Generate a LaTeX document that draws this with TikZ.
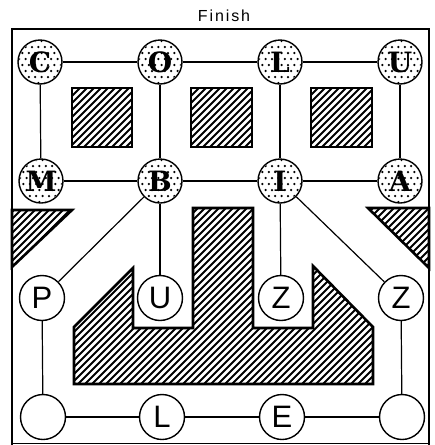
\documentclass[tikz,border=0pt]{standalone}
\usepackage{fontspec}
\newfontfamily\sansf{Liberation Sans}
\newfontfamily\stipf{DejaVu Serif}
\newcommand\stipdots[1]{%
 \begin{scope}
 \clip (#1) circle (21pt);
 \foreach \j in {0,...,7}{\foreach \i in {0,...,7}{%
   \pgfmathsetmacro\dx{\i*6.4-24+mod(\j,2)*3.2}%
   \pgfmathsetmacro\dy{\j*6-21}%
   \fill ([shift={(\dx,\dy)}]#1) circle (1.25pt);}}
 \end{scope}}
\begin{document}
\begin{tikzpicture}[x=1pt,y=-1pt,
  plain/.style={circle,draw,line width=1.4pt,minimum size=45pt,inner sep=0pt,fill=white,font=\sansf\fontsize{31}{31}\selectfont},
  stip/.style={circle,draw,line width=1.4pt,minimum size=44pt,inner sep=0pt,fill=white,font=\stipf\bfseries\fontsize{28}{28}\selectfont},
  link/.style={line width=1.2pt},
  edgeline/.style={line width=2.6pt,line join=miter},
  hatchline/.style={line width=1.8pt}]
\useasboundingbox (0,0) rectangle (435,445);
% title
\node[inner sep=0pt] (title) at (224,16) {\sansf\addfontfeatures{LetterSpace=12}\fontsize{16}{16}\selectfont Finish};
% frame
\draw[line width=2.8pt] (12,445) -- (12,29) -- (429,29) -- (429,445);
\draw[line width=0.8pt] (12,443) -- (429,443);
% hatching
\begin{scope}
\clip (72,88) rectangle (132,147)
      (191,88) rectangle (252,147)
      (311,88) rectangle (372,147)
      (12,210) -- (72,210) -- (12,267) -- cycle
      (368,208) -- (429,208) -- (429,268) -- cycle
      (74,384) -- (74,327) -- (133,268) -- (133,328) -- (193,328) -- (193,208) -- (253,208) -- (253,328) -- (313,328) -- (313,266) -- (373,327) -- (373,384) -- cycle;
\foreach \c in {0,7,...,882} \draw[hatchline] (\c-445,445) -- (\c,0);
\end{scope}
\draw[edgeline] (72,88) rectangle (132,147);
\draw[edgeline] (191,88) rectangle (252,147);
\draw[edgeline] (311,88) rectangle (372,147);
\draw[edgeline] (12,210) -- (72,210) -- (12,267) -- cycle;
\draw[edgeline] (368,208) -- (429,208) -- (429,268) -- cycle;
\draw[edgeline] (74,384) -- (74,327) -- (133,268) -- (133,328) -- (193,328) -- (193,208) -- (253,208) -- (253,328) -- (313,328) -- (313,266) -- (373,327) -- (373,384) -- cycle;
% stippled nodes
\node[stip] (Cs) at (40,62) {C};
\node[stip] (Os) at (160,62) {O};
\node[stip] (Ls) at (280,62) {L};
\node[stip] (Us) at (400,62) {U};
\node[stip] (Ms) at (41,181) {M};
\node[stip] (Bs) at (160,181) {B};
\node[stip] (Is) at (280,181) {I};
\node[stip] (As) at (400,181) {A};
\foreach \n in {Cs,Os,Ls,Us,Ms,Bs,Is,As} {\stipdots{\n}}
% plain nodes
\node[plain] (Pp) at (42,298) {P};
\node[plain] (Up) at (160,298) {U};
\node[plain] (Z1) at (281,298) {Z};
\node[plain] (Z2) at (401,298) {Z};
\node[plain] (BL) at (43,417) {};
\node[plain] (Lp) at (162,417) {L};
\node[plain] (Ep) at (282,417) {E};
\node[plain] (BR) at (402,417) {};
% connectors
\draw[link] (Cs) -- (Os);
\draw[link] (Os) -- (Ls);
\draw[link] (Ls) -- (Us);
\draw[link] (Cs) -- (Ms);
\draw[link] (Os) -- (Bs);
\draw[link] (Ls) -- (Is);
\draw[link] (Us) -- (As);
\draw[link] (Ms) -- (Bs);
\draw[link] (Bs) -- (Is);
\draw[link] (Is) -- (As);
\draw[link] (Bs) -- (Pp);
\draw[link] (Bs) -- (Up);
\draw[link] (Is) -- (Z1);
\draw[link] (Is) -- (Z2);
\draw[link] (Pp) -- (BL);
\draw[link] (Z2) -- (BR);
\draw[link] (BL) -- (Lp);
\draw[link] (Lp) -- (Ep);
\draw[link] (Ep) -- (BR);
\end{tikzpicture}
\end{document}
